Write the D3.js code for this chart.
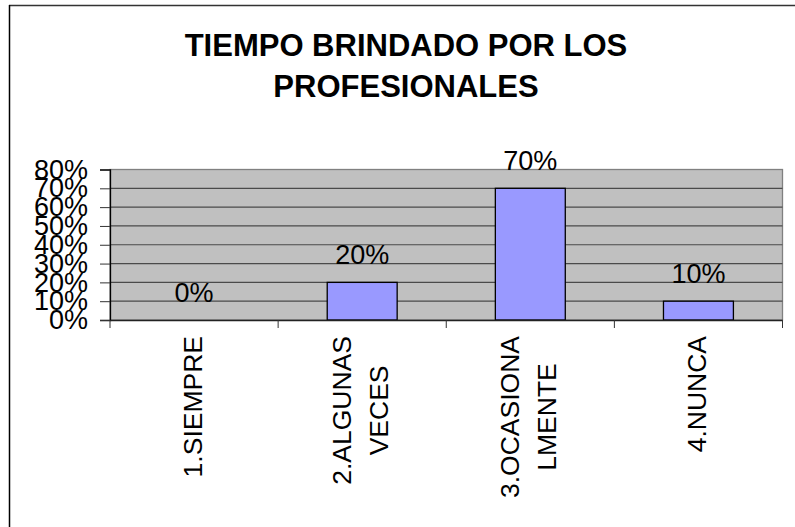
<!DOCTYPE html>
<html>
<head>
<meta charset="utf-8">
<script src="https://cdn.jsdelivr.net/npm/d3@7"></script>
<style>
  body { margin: 0; background: #fff; }
  text { font-family: "Liberation Sans", Arial, sans-serif; fill: #000; }
</style>
</head>
<body>
<script>
// chart data
const titleLines = ["TIEMPO BRINDADO POR LOS", "PROFESIONALES"];
const categories = ["1.SIEMPRE", "2.ALGUNAS\nVECES", "3.OCASIONA\nLMENTE", "4.NUNCA"];
const values = [0, 0.2, 0.7, 0.1];
const yTicks = [0, 0.1, 0.2, 0.3, 0.4, 0.5, 0.6, 0.7, 0.8];

const width = 795, height = 527;
const plot = {left: 110, right: 782.5, top: 169.5, bottom: 320};

let svg = d3.select("body")
    .append("svg")
    .attr("width", width)
    .attr("height", height);

// outer frame (only top and left edges show)
svg.append("line")
    .attr("x1", 9).attr("x2", width).attr("y1", 5.5).attr("y2", 5.5)
    .attr("stroke", "#333").attr("stroke-width", 1.5);
svg.append("line")
    .attr("x1", 9.5).attr("x2", 9.5).attr("y1", 5).attr("y2", height)
    .attr("stroke", "#000").attr("stroke-width", 1.5);

// title
svg.append("g").selectAll("text")
    .data(titleLines)
    .enter()
    .append("text")
    .attr("x", 406)
    .attr("y", function(d, i) { return 55.5 + i * 41.6; })
    .style("text-anchor", "middle")
    .style("font-weight", "bold")
    .style("font-size", "31px")
    .text(function(d) { return d; });

let x = d3.scaleBand()
    .domain(categories)
    .range([plot.left, plot.right]);

let xBar = d3.scaleBand()
    .domain(categories)
    .range([plot.left, plot.right])
    .paddingInner(0.584)
    .paddingOuter(0.292);

let y = d3.scaleLinear()
    .domain([0, 0.8])
    .range([plot.bottom, plot.top]);

// plot background
svg.append("rect")
    .attr("x", plot.left)
    .attr("y", plot.top)
    .attr("width", plot.right - plot.left)
    .attr("height", plot.bottom - plot.top)
    .attr("fill", "#c0c0c0")
    .attr("stroke", "#808080")
    .attr("stroke-width", 1.3);

// gridlines
svg.append("g").selectAll("line")
    .data(yTicks.slice(1, -1))
    .enter()
    .append("line")
    .attr("x1", plot.left).attr("x2", plot.right)
    .attr("y1", function(d) { return y(d); })
    .attr("y2", function(d) { return y(d); })
    .attr("stroke", "#4a4a4a")
    .attr("stroke-width", 1.2);

// bars
svg.append("g").selectAll("rect")
    .data(values)
    .enter()
    .append("rect")
    .attr("x", function(d, i) { return xBar(categories[i]); })
    .attr("y", function(d) { return y(d); })
    .attr("width", xBar.bandwidth())
    .attr("height", function(d) { return y(0) - y(d); })
    .attr("fill", "#9999ff")
    .attr("stroke", "#000")
    .attr("stroke-width", 1.3);

// value labels
svg.append("g").selectAll("text")
    .data(values)
    .enter()
    .append("text")
    .attr("x", function(d, i) { return x(categories[i]) + x.bandwidth() / 2; })
    .attr("y", function(d) { return y(d) - 18.5; })
    .style("text-anchor", "middle")
    .style("font-size", "27px")
    .text(function(d) { return Math.round(d * 100) + "%"; });

// y axis
let yAxis = svg.append("g")
    .attr("transform", `translate(${plot.left}, 0)`)
    .call(d3.axisLeft(y).tickValues(yTicks).tickFormat(d3.format(".0%")).tickSize(10).tickPadding(12));
yAxis.select(".domain").attr("stroke", "#000").attr("stroke-width", 1.3);
yAxis.selectAll(".tick line").attr("stroke", "#333");
yAxis.selectAll(".tick text")
    .style("font-size", "27px")
    .style("font-family", "Liberation Sans, Arial, sans-serif")
    .attr("fill", "#000");

// x axis
let xAxis = svg.append("g")
    .attr("transform", `translate(0, ${plot.bottom})`)
    .call(d3.axisBottom(x).tickSize(0).tickFormat(""));
xAxis.select(".domain").attr("stroke", "#222").attr("stroke-width", 1.3);
xAxis.selectAll(".tick").remove();

// category boundary ticks
let bounds = categories.map(function(c) { return x(c); }).concat([plot.right]);
svg.append("g").selectAll("line")
    .data(bounds)
    .enter()
    .append("line")
    .attr("x1", function(d) { return d; }).attr("x2", function(d) { return d; })
    .attr("y1", plot.bottom).attr("y2", plot.bottom + 8)
    .attr("stroke", "#333");

// rotated category labels, block top-aligned, lines centred
let labelTop = 336;
let lineStep = 36.7;
categories.forEach(function(c) {
    let lines = c.split("\n");
    let cx = x(c) + x.bandwidth() / 2;
    let g = svg.append("g");
    let texts = g.selectAll("text")
        .data(lines)
        .enter()
        .append("text")
        .style("font-size", "26.5px")
        .style("text-anchor", "middle")
        .text(function(d) { return d; });
    let maxLen = d3.max(texts.nodes(), function(n) { return n.getComputedTextLength(); });
    let cy = labelTop + maxLen / 2;
    texts.attr("transform", function(d, i) {
        let bx = cx - (lines.length - 1) * lineStep / 2 + i * lineStep + 7.5;
        return `translate(${bx}, ${cy}) rotate(-90)`;
    });
});
</script>
</body>
</html>
